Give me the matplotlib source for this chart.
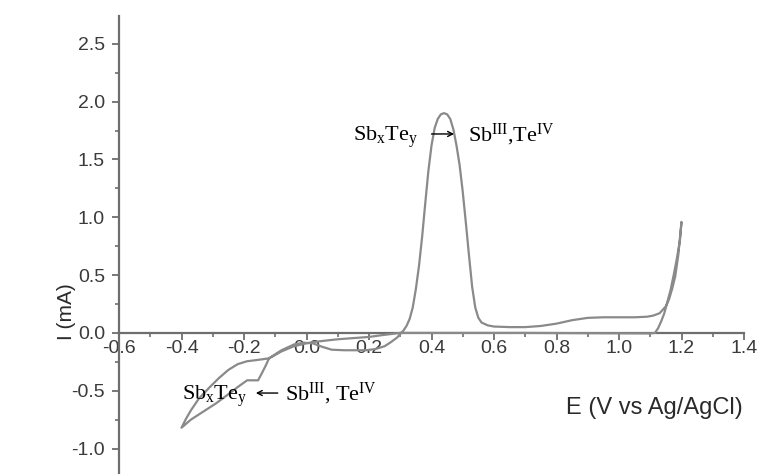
import matplotlib
matplotlib.use("Agg")
import matplotlib.pyplot as plt
from matplotlib.ticker import MultipleLocator

plt.rcParams["font.family"] = ["Liberation Sans", "DejaVu Sans"]
plt.rcParams["mathtext.fontset"] = "custom"
plt.rcParams["mathtext.rm"] = "Liberation Serif"
plt.rcParams["mathtext.it"] = "Liberation Serif:italic"

# cyclic voltammogram, one closed loop starting at 0.3 V (cathodic first)
E_cath = [0.30, 0.27, 0.24, 0.20, 0.15, 0.10, 0.05, 0.02, 0.00, -0.04, -0.08,
          -0.12, -0.13, -0.145, -0.155, -0.19, -0.216, -0.25, -0.29, -0.33,
          -0.37, -0.40]
I_cath = [0.00, -0.01, -0.02, -0.035, -0.045, -0.055, -0.07, -0.08, -0.09, -0.115,
          -0.16, -0.22, -0.28, -0.36, -0.41, -0.41, -0.46, -0.53, -0.61, -0.68,
          -0.75, -0.82]

E_anod = [-0.385, -0.37, -0.345, -0.31, -0.28, -0.25, -0.22, -0.19, -0.16,
          -0.12, -0.08, -0.04, -0.01, 0.02, 0.05, 0.08, 0.12, 0.19, 0.22, 0.25,
          0.27, 0.29, 0.30, 0.31, 0.32, 0.33, 0.34, 0.35, 0.36, 0.37, 0.38, 0.39,
          0.40, 0.41, 0.42, 0.43, 0.44, 0.45, 0.46, 0.47, 0.48, 0.49, 0.50, 0.51,
          0.52, 0.53, 0.54, 0.55, 0.56, 0.58, 0.60, 0.65, 0.70, 0.75, 0.80, 0.85,
          0.90, 0.95, 1.00, 1.05, 1.09, 1.11, 1.13, 1.15, 1.16, 1.17, 1.18, 1.19,
          1.20]
I_anod = [-0.74, -0.67, -0.57, -0.47, -0.39, -0.32, -0.27, -0.245, -0.235,
          -0.22, -0.15, -0.10, -0.085, -0.09, -0.12, -0.145, -0.15, -0.15, -0.14,
          -0.115, -0.08, -0.04, -0.01, 0.02, 0.06, 0.12, 0.22, 0.38, 0.58, 0.83,
          1.12, 1.40, 1.62, 1.77, 1.85, 1.89, 1.90, 1.89, 1.85, 1.76, 1.62, 1.45,
          1.22, 0.95, 0.67, 0.40, 0.22, 0.13, 0.09, 0.065, 0.055, 0.05, 0.05,
          0.06, 0.08, 0.11, 0.13, 0.135, 0.135, 0.135, 0.14, 0.15, 0.17, 0.23,
          0.29, 0.38, 0.49, 0.68, 0.96]

E_ret = [1.195, 1.185, 1.175, 1.165, 1.155, 1.145, 1.135, 1.125, 1.115, 1.10,
         0.70, 0.30]
I_ret = [0.80, 0.64, 0.50, 0.37, 0.27, 0.17, 0.10, 0.04, 0.0, -0.005, 0.0, 0.0]

E = E_cath + E_anod + E_ret
I = I_cath + I_anod + I_ret

xticks = [-0.6, -0.4, -0.2, 0.0, 0.2, 0.4, 0.6, 0.8, 1.0, 1.2, 1.4]
yticks = [-1.0, -0.5, 0.0, 0.5, 1.0, 1.5, 2.0, 2.5]

fig = plt.figure(figsize=(7.58, 4.74), dpi=100)
ax = fig.add_axes([119 / 758, 0.0, 625 / 758, 458 / 474])

ax.plot(E, I, color="#8a8a8a", lw=1.6, zorder=3,
        solid_joinstyle="round", solid_capstyle="round")

ax.set_xlim(-0.6, 1.4)
ax.set_ylim(-1.22, 2.74)
ax.set_xticks(xticks)
ax.set_yticks(yticks)
ax.set_xticklabels([f"{v:.1f}" for v in xticks])
ax.set_yticklabels([f"{v:.1f}" for v in yticks])
ax.xaxis.set_minor_locator(MultipleLocator(0.1))
ax.yaxis.set_minor_locator(MultipleLocator(0.25))

for s in ["top", "right"]:
    ax.spines[s].set_visible(False)
ax.spines["bottom"].set_position(("data", 0))
for s in ["left", "bottom"]:
    ax.spines[s].set_color("#6e6e6e")
    ax.spines[s].set_linewidth(1.6)

ax.tick_params(which="major", direction="out", length=5, width=1.3,
               color="#6e6e6e", labelsize=14, labelcolor="#3a3a3a")
ax.tick_params(which="minor", direction="out", length=3, width=1.2, color="#6e6e6e")
ax.tick_params(axis="x", pad=0)
ax.tick_params(axis="y", pad=5)

fig.text(66 / 758, 1 - 312 / 474, "I (mA)", rotation=90, ha="center", va="center",
         fontsize=15, color="#2a2a2a")
fig.text(654 / 758, 1 - 408 / 474, "E (V vs Ag/AgCl)", ha="center", va="center",
         fontsize=17, color="#2a2a2a")

# annotations: oxidation peak and deposition branch
arrow = dict(arrowstyle="->,head_length=0.35,head_width=0.18", lw=1.0, color="black",
             shrinkA=0, shrinkB=0)
ax.text(0.148, 1.66, r"$\mathrm{Sb_xTe_y}$", fontsize=16, ha="left", va="baseline")
ax.annotate("", xy=(0.472, 1.72), xytext=(0.40, 1.72), arrowprops=arrow)
ax.text(0.516, 1.66, r"$\mathrm{Sb^{III}{,}Te^{IV}}$", fontsize=16, ha="left",
        va="baseline")

ax.text(-0.40, -0.58, r"$\mathrm{Sb_xTe_y}$", fontsize=16, ha="left", va="baseline")
ax.annotate("", xy=(-0.162, -0.52), xytext=(-0.092, -0.52), arrowprops=arrow)
ax.text(-0.068, -0.58, r"$\mathrm{Sb^{III}{,}\ Te^{IV}}$", fontsize=16, ha="left",
        va="baseline")

fig.savefig("out.png", dpi=100)
